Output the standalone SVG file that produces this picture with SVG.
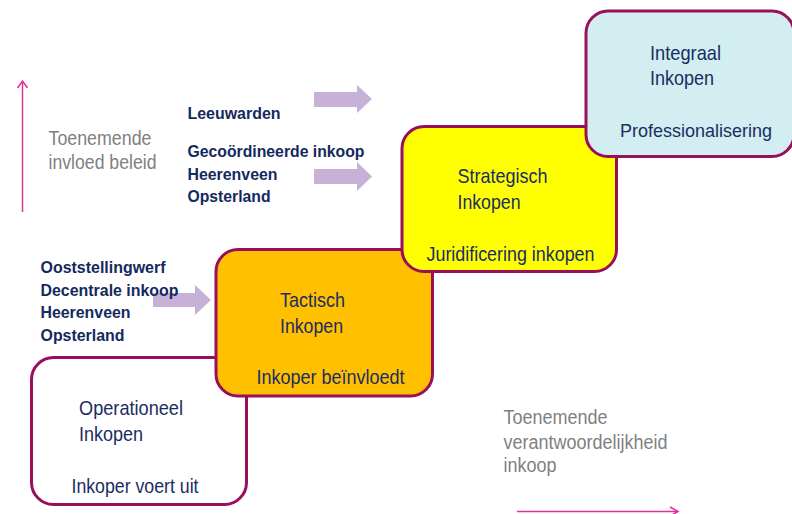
<svg xmlns="http://www.w3.org/2000/svg" width="792" height="514" viewBox="0 0 792 514">
<style>
.box{stroke:#980F5C;stroke-width:3}
.t{font-family:"Liberation Sans",Arial,sans-serif;font-size:21px;fill:#1A2D62}
.b{font-family:"Liberation Sans",Arial,sans-serif;font-size:16.5px;font-weight:bold;fill:#142A5E}
.g{font-family:"Liberation Sans",Arial,sans-serif;font-size:19.5px;fill:#7F7F7F}
.pa{fill:#C8B1D7}
.pink{stroke:#E0339A;stroke-width:1.5;fill:none}
</style>
<rect width="792" height="514" fill="#FFFFFF"/>
<g id="connectors">
<line class="pink" x1="22.5" y1="212" x2="22.5" y2="81"/>
<polyline class="pink" points="17.5,88 22.5,81 27.5,88"/>
<line class="pink" x1="517" y1="511.5" x2="678" y2="511.5"/>
<polyline class="pink" points="670,507 678,511.5 670,516"/>
<polygon class="pa" points="314,92 357,92 357,85 372,99 357,113 357,107 314,107"/>
<polygon class="pa" points="314,169 357,169 357,162 372,176.5 357,191 357,184 314,184"/>
<polygon class="pa" points="153,293 195,293 195,285 211,300 195,315 195,307 153,307"/>
</g>
<g id="node-operationeel">
<rect class="box" x="31.5" y="357.5" width="215" height="147" rx="22" fill="#FFFFFF"/>
<text class="t" x="79" y="415" textLength="104" lengthAdjust="spacingAndGlyphs">Operationeel</text>
<text class="t" x="79" y="440.5" textLength="64" lengthAdjust="spacingAndGlyphs">Inkopen</text>
<text class="t" x="71.5" y="493" textLength="127" lengthAdjust="spacingAndGlyphs">Inkoper voert uit</text>
</g>
<g id="node-tactisch">
<rect class="box" x="216" y="249.5" width="216.5" height="146.5" rx="22" fill="#FFC000"/>
<text class="t" x="280" y="306.5" textLength="65" lengthAdjust="spacingAndGlyphs">Tactisch</text>
<text class="t" x="280" y="332.5" textLength="63" lengthAdjust="spacingAndGlyphs">Inkopen</text>
<text class="t" x="256.5" y="383.5" textLength="148" lengthAdjust="spacingAndGlyphs">Inkoper beïnvloedt</text>
</g>
<g id="node-strategisch">
<rect class="box" x="402" y="126.5" width="214.5" height="145" rx="22" fill="#FFFF00"/>
<text class="t" x="457.5" y="183" textLength="90" lengthAdjust="spacingAndGlyphs">Strategisch</text>
<text class="t" x="457.5" y="208.5" textLength="63" lengthAdjust="spacingAndGlyphs">Inkopen</text>
<text class="t" x="426.5" y="260.5" textLength="168" lengthAdjust="spacingAndGlyphs">Juridificering inkopen</text>
</g>
<g id="node-integraal">
<rect class="box" x="586" y="11" width="208" height="145.5" rx="22" fill="#D2EEF0"/>
<text class="t" x="650" y="60" textLength="71" lengthAdjust="spacingAndGlyphs">Integraal</text>
<text class="t" x="650" y="85" textLength="64" lengthAdjust="spacingAndGlyphs">Inkopen</text>
<text class="t" x="620" y="136.5" style="font-size:19px" textLength="152" lengthAdjust="spacingAndGlyphs">Professionalisering</text>
</g>
<g id="labels">
<text class="g" x="48.5" y="145" textLength="103" lengthAdjust="spacingAndGlyphs">Toenemende</text>
<text class="g" x="48.5" y="169" textLength="108" lengthAdjust="spacingAndGlyphs">invloed beleid</text>
<text class="g" x="503.5" y="423.5" textLength="104" lengthAdjust="spacingAndGlyphs">Toenemende</text>
<text class="g" x="503.5" y="448.5" textLength="164" lengthAdjust="spacingAndGlyphs">verantwoordelijkheid</text>
<text class="g" x="503.5" y="472" textLength="53" lengthAdjust="spacingAndGlyphs">inkoop</text>
<text class="b" x="187.5" y="118.5" textLength="93" lengthAdjust="spacingAndGlyphs">Leeuwarden</text>
<text class="b" x="187.5" y="156.5" textLength="177" lengthAdjust="spacingAndGlyphs">Gecoördineerde inkoop</text>
<text class="b" x="187.5" y="180" textLength="90" lengthAdjust="spacingAndGlyphs">Heerenveen</text>
<text class="b" x="187.5" y="202" textLength="83" lengthAdjust="spacingAndGlyphs">Opsterland</text>
<text class="b" x="40.5" y="272.5" textLength="125" lengthAdjust="spacingAndGlyphs">Ooststellingwerf</text>
<text class="b" x="40.5" y="295.5" textLength="138" lengthAdjust="spacingAndGlyphs">Decentrale inkoop</text>
<text class="b" x="40.5" y="318" textLength="90" lengthAdjust="spacingAndGlyphs">Heerenveen</text>
<text class="b" x="40.5" y="340.5" textLength="84" lengthAdjust="spacingAndGlyphs">Opsterland</text>
</g>
</svg>
